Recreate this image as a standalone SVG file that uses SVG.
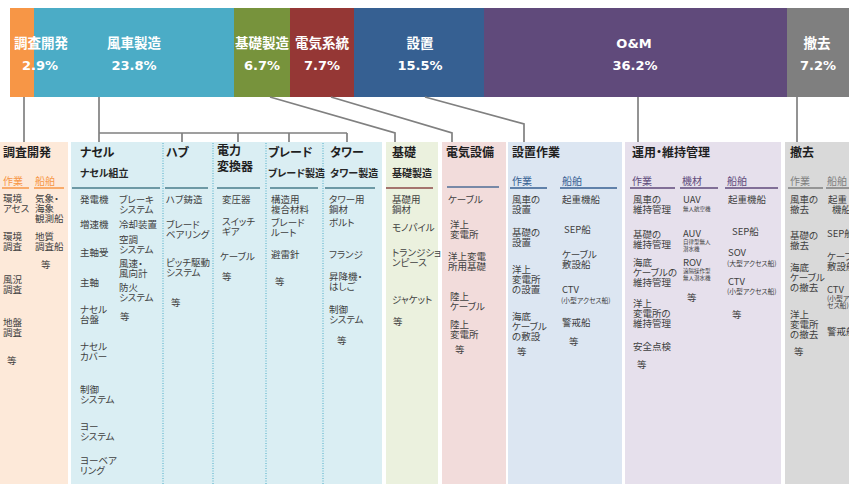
<svg xmlns="http://www.w3.org/2000/svg" width="849" height="485" viewBox="0 0 849 485">
<style>
text{font-family:"Noto Sans CJK JP","Noto Sans",sans-serif;font-feature-settings:"palt" 1}
.bl{font-weight:700;font-size:13.5px;fill:#fff;text-anchor:middle}
.bp{font-family:"DejaVu Sans",sans-serif;font-weight:700;font-size:13px;fill:#fff;text-anchor:middle}
.h{font-weight:700;font-size:12px;fill:#1f1f1f}
.sh{font-weight:700;font-size:10px;fill:#262626}
.sub{font-size:10px}
.it{font-size:9.5px;fill:#404040}
.sm{font-size:6.8px;fill:#404040}
.xs{font-size:5.5px;fill:#404040}
.conn{stroke:#808080;stroke-width:1.7;fill:none}
.dot{stroke:#4BACC6;stroke-width:1;stroke-dasharray:1 1.5}
.ul{stroke-width:1.5}
</style>

<g id="bar">
  <g id="bar-survey"><rect x="10" y="8" width="24" height="89" fill="#F79646"/></g>
  <g id="bar-turbine"><rect x="34" y="8" width="200" height="89" fill="#4BACC6"/></g>
  <g id="bar-foundation"><rect x="234" y="8" width="56" height="89" fill="#77933C"/></g>
  <g id="bar-electrical"><rect x="290" y="8" width="64" height="89" fill="#953735"/></g>
  <g id="bar-install"><rect x="354" y="8" width="130" height="89" fill="#366092"/></g>
  <g id="bar-om"><rect x="484" y="8" width="303" height="89" fill="#604A7B"/></g>
  <g id="bar-decom"><rect x="787" y="8" width="62" height="89" fill="#7F7F7F"/></g>
  <text class="bl" x="41" y="48">調査開発</text><text class="bp" x="40" y="70">2.9%</text>
  <text class="bl" x="134" y="48">風車製造</text><text class="bp" x="134" y="70">23.8%</text>
  <text class="bl" x="262" y="48">基礎製造</text><text class="bp" x="262" y="70">6.7%</text>
  <text class="bl" x="322" y="48">電気系統</text><text class="bp" x="322" y="70">7.7%</text>
  <text class="bl" x="420" y="48">設置</text><text class="bp" x="420" y="70">15.5%</text>
  <text class="bp" x="634" y="48">O&amp;M</text><text class="bp" x="635" y="70">36.2%</text>
  <text class="bl" x="817" y="48">撤去</text><text class="bp" x="818" y="70">7.2%</text>
</g>

<g id="connectors" class="conn">
  <path d="M24 97V142"/>
  <path d="M99 97V142M99 133H347M182 133V142M238 133V142M289 133V142M347 133V142"/>
  <path d="M270 97L395 133V142"/>
  <path d="M331 97L452 133V142"/>
  <path d="M425 97L524 124V142"/>
  <path d="M638 97V142"/>
  <path d="M797 97V142"/>
</g>

<g id="panel-survey">
  <rect x="0" y="142" width="68" height="342" fill="#FDE9D9"/>
  <text class="h" x="3" y="157">調査開発</text>
  <text class="sub" x="3" y="185" fill="#F79646">作業</text>
  <text class="sub" x="35" y="185" fill="#F79646">船舶</text>
  <path class="ul" d="M2 188H29M34 188H64" stroke="#F79646"/>
  <text class="it"><tspan x="3" y="202">環境</tspan><tspan x="3" y="212">アセス</tspan></text>
  <text class="it"><tspan x="3" y="240">環境</tspan><tspan x="3" y="250">調査</tspan></text>
  <text class="it"><tspan x="3" y="283">風況</tspan><tspan x="3" y="293">調査</tspan></text>
  <text class="it"><tspan x="3" y="326">地盤</tspan><tspan x="3" y="336">調査</tspan></text>
  <text class="it" x="7" y="364">等</text>
  <text class="it"><tspan x="35" y="202">気象・</tspan><tspan x="35" y="212">海象</tspan><tspan x="35" y="222">観測船</tspan></text>
  <text class="it"><tspan x="35" y="240">地質</tspan><tspan x="35" y="250">調査船</tspan></text>
  <text class="it" x="41" y="268">等</text>
</g>

<g id="panel-turbine">
  <rect x="71" y="142" width="311" height="342" fill="#DAEEF3"/>
  <path class="dot" d="M163 143V484M213 143V484M266 143V484M323 143V484"/>
  <path class="ul" d="M72 188H160M165 188H208M217 188H260M270 188H318M325 188H375" stroke="#4A7D8C"/>
  <text class="h" x="80" y="157">ナセル</text>
  <text class="h" x="166" y="157">ハブ</text>
  <text class="h"><tspan x="217" y="155">電力</tspan><tspan x="217" y="171">変換器</tspan></text>
  <text class="h" x="268" y="157">ブレード</text>
  <text class="h" x="330" y="157">タワー</text>
  <text class="sh" x="80" y="177">ナセル組立</text>
  <text class="sh" x="268" y="177">ブレード製造</text>
  <text class="sh" x="330" y="177">タワー製造</text>
  <text class="it" x="80" y="203">発電機</text>
  <text class="it" x="80" y="228">増速機</text>
  <text class="it" x="80" y="256">主軸受</text>
  <text class="it" x="80" y="286">主軸</text>
  <text class="it"><tspan x="80" y="313">ナセル</tspan><tspan x="80" y="323">台盤</tspan></text>
  <text class="it"><tspan x="80" y="350">ナセル</tspan><tspan x="80" y="360">カバー</tspan></text>
  <text class="it"><tspan x="80" y="393">制御</tspan><tspan x="80" y="403">システム</tspan></text>
  <text class="it"><tspan x="80" y="430">ヨー</tspan><tspan x="80" y="440">システム</tspan></text>
  <text class="it"><tspan x="80" y="464">ヨーベア</tspan><tspan x="80" y="474">リング</tspan></text>
  <text class="it"><tspan x="119" y="203">ブレーキ</tspan><tspan x="119" y="213">システム</tspan></text>
  <text class="it" x="119" y="228">冷却装置</text>
  <text class="it"><tspan x="119" y="243">空調</tspan><tspan x="119" y="253">システム</tspan></text>
  <text class="it"><tspan x="119" y="267">風速・</tspan><tspan x="119" y="277">風向計</tspan></text>
  <text class="it"><tspan x="119" y="291">防火</tspan><tspan x="119" y="301">システム</tspan></text>
  <text class="it" x="120" y="320">等</text>
  <text class="it" x="166" y="203">ハブ鋳造</text>
  <text class="it"><tspan x="166" y="228">ブレード</tspan><tspan x="166" y="238">ベアリング</tspan></text>
  <text class="it"><tspan x="166" y="266">ピッチ駆動</tspan><tspan x="166" y="276">システム</tspan></text>
  <text class="it" x="171" y="306">等</text>
  <text class="it" x="222" y="203">変圧器</text>
  <text class="it"><tspan x="222" y="225">スイッチ</tspan><tspan x="222" y="235">ギア</tspan></text>
  <text class="it" x="220" y="260">ケーブル</text>
  <text class="it" x="222" y="280">等</text>
  <text class="it"><tspan x="271" y="203">構造用</tspan><tspan x="271" y="213">複合材料</tspan></text>
  <text class="it"><tspan x="271" y="226">ブレード</tspan><tspan x="271" y="236">ルート</tspan></text>
  <text class="it" x="271" y="258">避雷針</text>
  <text class="it" x="275" y="285">等</text>
  <text class="it"><tspan x="329" y="203">タワー用</tspan><tspan x="329" y="213">鋼材</tspan></text>
  <text class="it" x="329" y="226">ボルト</text>
  <text class="it" x="329" y="258">フランジ</text>
  <text class="it"><tspan x="329" y="280">昇降機・</tspan><tspan x="329" y="290">はしご</tspan></text>
  <text class="it"><tspan x="329" y="313">制御</tspan><tspan x="329" y="323">システム</tspan></text>
  <text class="it" x="337" y="344">等</text>
</g>

<g id="panel-foundation">
  <rect x="386" y="142" width="52" height="342" fill="#EBF1DE"/>
  <text class="h" x="392" y="157">基礎</text>
  <text class="sh" x="392" y="177">基礎製造</text>
  <path class="ul" d="M386 188H433" stroke="#8C4A48"/>
  <text class="it"><tspan x="392" y="203">基礎用</tspan><tspan x="392" y="213">鋼材</tspan></text>
  <text class="it" x="392" y="231">モノパイル</text>
  <text class="it"><tspan x="392" y="256">トランジショ</tspan><tspan x="392" y="266">ンピース</tspan></text>
  <text class="it" x="392" y="303">ジャケット</text>
  <text class="it" x="393" y="325">等</text>
</g>

<g id="panel-electrical">
  <rect x="442" y="142" width="64" height="342" fill="#F2DCDB"/>
  <text class="h" x="446" y="157">電気設備</text>
  <path class="ul" d="M447 187H499" stroke="#4F6E96"/>
  <text class="it" x="448" y="203">ケーブル</text>
  <text class="it"><tspan x="450" y="228">洋上</tspan><tspan x="450" y="238">変電所</tspan></text>
  <text class="it"><tspan x="448" y="260">洋上変電</tspan><tspan x="448" y="270">所用基礎</tspan></text>
  <text class="it"><tspan x="450" y="300">陸上</tspan><tspan x="450" y="310">ケーブル</tspan></text>
  <text class="it"><tspan x="450" y="328">陸上</tspan><tspan x="450" y="338">変電所</tspan></text>
  <text class="it" x="455" y="353">等</text>
</g>

<g id="panel-install">
  <rect x="508" y="142" width="114" height="342" fill="#DCE6F2"/>
  <text class="h" x="512" y="157">設置作業</text>
  <text class="sub" x="512" y="185" fill="#376092">作業</text>
  <text class="sub" x="562" y="185" fill="#376092">船舶</text>
  <path class="ul" d="M510 188H547M560 188H617" stroke="#376092"/>
  <text class="it"><tspan x="512" y="203">風車の</tspan><tspan x="512" y="213">設置</tspan></text>
  <text class="it"><tspan x="512" y="236">基礎の</tspan><tspan x="512" y="246">設置</tspan></text>
  <text class="it"><tspan x="512" y="273">洋上</tspan><tspan x="512" y="283">変電所</tspan><tspan x="512" y="293">の設置</tspan></text>
  <text class="it"><tspan x="512" y="320">海底</tspan><tspan x="512" y="330">ケーブル</tspan><tspan x="512" y="340">の敷設</tspan></text>
  <text class="it" x="517" y="355">等</text>
  <text class="it" x="562" y="203">起重機船</text>
  <text class="it" x="564" y="233">SEP船</text>
  <text class="it"><tspan x="562" y="258">ケーブル</tspan><tspan x="562" y="268">敷設船</tspan></text>
  <text class="it" x="562" y="293">CTV</text>
  <text class="sm" x="561" y="303">(小型アクセス船)</text>
  <text class="it" x="562" y="326">警戒船</text>
  <text class="it" x="569" y="345">等</text>
</g>

<g id="panel-om">
  <rect x="625" y="142" width="156" height="342" fill="#E6E0EC"/>
  <text class="h" x="632" y="157">運用・維持管理</text>
  <text class="sub" x="632" y="185" fill="#604A7B">作業</text>
  <text class="sub" x="682" y="185" fill="#604A7B">機材</text>
  <text class="sub" x="727" y="185" fill="#604A7B">船舶</text>
  <path class="ul" d="M630 188H675M680 188H718M725 188H778" stroke="#604A7B"/>
  <text class="it"><tspan x="633" y="203">風車の</tspan><tspan x="633" y="213">維持管理</tspan></text>
  <text class="it"><tspan x="633" y="238">基礎の</tspan><tspan x="633" y="248">維持管理</tspan></text>
  <text class="it"><tspan x="633" y="266">海底</tspan><tspan x="633" y="276">ケーブルの</tspan><tspan x="633" y="286">維持管理</tspan></text>
  <text class="it"><tspan x="633" y="307">洋上</tspan><tspan x="633" y="317">変電所の</tspan><tspan x="633" y="327">維持管理</tspan></text>
  <text class="it" x="633" y="350">安全点検</text>
  <text class="it" x="637" y="368">等</text>
  <text class="it" x="683" y="203">UAV</text>
  <text class="xs" x="683" y="211">無人航空機</text>
  <text class="it" x="683" y="237">AUV</text>
  <text class="xs"><tspan x="683" y="244">自律型無人</tspan><tspan x="683" y="251">潜水機</tspan></text>
  <text class="it" x="683" y="266">ROV</text>
  <text class="xs"><tspan x="683" y="273">遠隔操作型</tspan><tspan x="683" y="280">無人潜水機</tspan></text>
  <text class="it" x="687" y="301">等</text>
  <text class="it" x="728" y="203">起重機船</text>
  <text class="it" x="732" y="235">SEP船</text>
  <text class="it" x="728" y="256">SOV</text>
  <text class="sm" x="727" y="266">(大型アクセス船)</text>
  <text class="it" x="728" y="285">CTV</text>
  <text class="sm" x="727" y="294">(小型アクセス船)</text>
  <text class="it" x="732" y="318">等</text>
</g>

<g id="panel-decom">
  <rect x="785" y="142" width="64" height="342" fill="#D9D9D9"/>
  <text class="h" x="790" y="157">撤去</text>
  <text class="sub" x="790" y="185" fill="#7F7F7F">作業</text>
  <text class="sub" x="827" y="185" fill="#7F7F7F">船舶</text>
  <path class="ul" d="M788 188H823M826 188H849" stroke="#7F7F7F"/>
  <text class="it"><tspan x="790" y="203">風車の</tspan><tspan x="790" y="213">撤去</tspan></text>
  <text class="it"><tspan x="790" y="239">基礎の</tspan><tspan x="790" y="249">撤去</tspan></text>
  <text class="it"><tspan x="790" y="271">海底</tspan><tspan x="790" y="281">ケーブル</tspan><tspan x="790" y="291">の撤去</tspan></text>
  <text class="it"><tspan x="790" y="318">洋上</tspan><tspan x="790" y="328">変電所</tspan><tspan x="790" y="338">の撤去</tspan></text>
  <text class="it" x="794" y="355">等</text>
  <text class="it"><tspan x="828" y="203">起重</tspan><tspan x="832" y="213">機船</tspan></text>
  <text class="it" x="827" y="237">SEP船</text>
  <text class="it"><tspan x="827" y="260">ケーブル</tspan><tspan x="827" y="270">敷設船</tspan></text>
  <text class="it" x="827" y="293">CTV</text>
  <text class="sm"><tspan x="827" y="301">(小型アク</tspan><tspan x="827" y="308">セス船)</tspan></text>
  <text class="it" x="827" y="335">警戒船</text>
</g>
</svg>
